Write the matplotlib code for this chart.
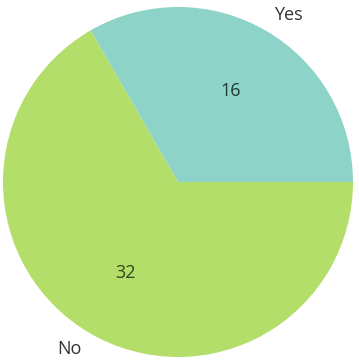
import matplotlib.pyplot as plt

labels = ["Yes", "No"]
counts = [16, 32]
colors = ["#8dd3c7", "#b3de69"]
text_colors = ["#1e3b36", "#34451a"]

fig = plt.figure(figsize=(3.59, 3.6), dpi=100)
ax = fig.add_axes([0, 0, 1, 1])

wedges, texts, autotexts = ax.pie(
    counts,
    labels=labels,
    colors=colors,
    autopct=lambda p: f"{round(p * sum(counts) / 100):d}",
    startangle=0,
    counterclock=True,
    textprops={"fontsize": 13, "family": "Open Sans"},
)
for t, c in zip(autotexts, text_colors):
    t.set_color(c)
for t in texts:
    t.set_color("#333333")

ax.set_aspect("auto")
ax.set_xlim(-178 / 175, (359 - 178) / 175)
ax.set_ylim(-178 / 175, 182 / 175)
ax.axis("off")

plt.savefig("out.png", dpi=100, facecolor="white")
